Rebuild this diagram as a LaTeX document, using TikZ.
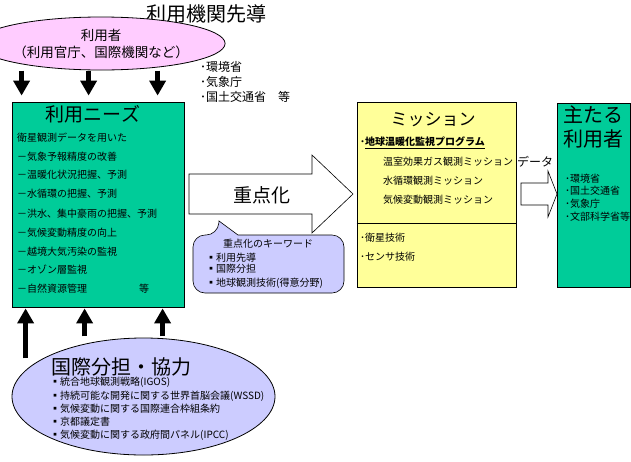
\documentclass[tikz,border=0pt]{standalone}
\usepackage{fontspec}
\setmainfont{Noto Sans CJK JP}
\usetikzlibrary{shapes.geometric,arrows.meta}
\definecolor{needsgreen}{HTML}{00CC99}
\definecolor{userpink}{HTML}{FFCCFF}
\definecolor{coopblue}{HTML}{CCCCFF}
\definecolor{missionyellow}{HTML}{FFFF99}
\tikzset{
	item/.style={anchor=west, inner sep=0pt, font=\fontsize{#1}{#1}\selectfont},
	item/.default=10,
	heading/.style={inner sep=0pt, font=\fontsize{#1}{#1}\selectfont},
	panel/.style={draw, line width=0.8pt, inner sep=0pt},
	fatarrow/.style={line width=5pt, -{Triangle[width=16pt,length=15pt]}},
	blockarrow/.style={draw, fill=white, line width=0.6pt},
}
\begin{document}
\begin{tikzpicture}[x=1pt, y=-1pt]
	\useasboundingbox (0,0) rectangle (631,461);
	% top: users
	\node[heading=20] (lead) at (206,13.5) {利用機関先導};
	\node[panel, ellipse, fill=userpink, minimum width=198pt, minimum height=53pt,
		align=center, font=\fontsize{13.5}{17}\selectfont] (users) at (101,43.5)
		{利用者\\（利用官庁、国際機関など）};
	\node[item=12] (env) at (200,67) {･環境省};
	\node[item=12] (jma) at (200,82) {･気象庁};
	\node[item=12] (mlit) at (200,97) {･国土交通省　等};

	% user needs
	\node[panel, fill=needsgreen, minimum width=172pt, minimum height=205pt] (needs) at (98,204.5) {};
	\node[heading=19] (needstitle) at (93,114) {利用ニーズ};
	\foreach \y/\txt [count=\i] in {138/衛星観測データを用いた, 157/－気象予報精度の改善,
		175/－温暖化状況把握、予測, 194/－水循環の把握、予測, 214/－洪水、集中豪雨の把握、予測,
		233/－気候変動精度の向上, 252/－越境大気汚染の監視, 270/－オゾン層監視,
		289/－自然資源管理\hspace{52pt}等}
		\node[item] (need\i) at (17,\y) {\txt};

	\foreach \dx in {10,77,146}
		\draw[fatarrow] ([xshift=\dx pt, yshift=31pt]needs.north west) -- ([xshift=\dx pt, yshift=6pt]needs.north west);

	% focus arrow and keywords
	\draw[blockarrow] (189,174) -- (312,174) -- (312,155) -- (353,194) -- (312,233) -- (312,214) -- (189,214) -- cycle;
	\node[heading=19] (focus) at (262,195) {重点化};
	\draw[fill=coopblue, line width=0.6pt, rounded corners=12pt] (193,264) -- (193,235) -- (218,235)
		[sharp corners] -- (219,221) -- (238,235) [rounded corners=12pt] -- (344,235) -- (344,293) -- (193,293) -- cycle;
	\node[heading=10] (keytitle) at (268,244) {重点化のキーワード};
	\node[item] (key1) at (206,258) {▪利用先導};
	\node[item] (key2) at (206,269) {▪国際分担};
	\node[item] (key3) at (206,283) {▪地球観測技術(得意分野)};

	% mission
	\node[panel, fill=missionyellow, minimum width=159pt, minimum height=185pt] (mission) at (436.5,194.5) {};
	\draw[line width=0.8pt] ([yshift=64pt]mission.south west) -- ([yshift=64pt]mission.south east);
	\node[heading=17] (missiontitle) at (433,120) {ミッション};
	\node[item] (gw) at (360,143) {\bfseries ･\underline{地球温暖化監視プログラム}};
	\node[item] (ghg) at (383,162) {温室効果ガス観測ミッション};
	\node[item] (water) at (383,181) {水循環観測ミッション};
	\node[item] (climate) at (383,200) {気候変動観測ミッション};
	\node[item] (sat) at (360,238) {･衛星技術};
	\node[item] (sensor) at (360,257) {･センサ技術};

	% data arrow and main users
	\node[heading=12] (data) at (535,162) {データ};
	\draw[blockarrow] (521,183) -- (548,183) -- (548,171) -- (557,194) -- (548,217) -- (548,205) -- (521,205) -- cycle;
	\node[panel, fill=needsgreen, minimum width=73pt, minimum height=184pt] (main) at (593.5,195) {};
	\node[item=20] (maintitle1) at (563,115) {主たる};
	\node[item=20] (maintitle2) at (563,139) {利用者};
	\node[item] (main1) at (565,179) {･環境省};
	\node[item] (main2) at (565,191) {･国土交通省};
	\node[item] (main3) at (565,204) {･気象庁};
	\node[item] (main4) at (565,217) {･文部科学省等};

	% international cooperation
	\node[panel, ellipse, fill=coopblue, minimum width=263pt, minimum height=117pt] (coop) at (143.5,396.5) {};
	\node[heading=20] (cooptitle) at (121.5,367) {国際分担・協力};
	\node[item] (coop1) at (50,382) {▪統合地球観測戦略(IGOS)};
	\node[item] (coop2) at (50,396) {▪持続可能な開発に関する世界首脳会議(WSSD)};
	\node[item] (coop3) at (50,409) {▪気候変動に関する国際連合枠組条約};
	\node[item] (coop4) at (50,422) {▪京都議定書};
	\node[item] (coop5) at (50,435) {▪気候変動に関する政府間パネル(IPCC)};

	\draw[fatarrow] ([xshift=14pt, yshift=-51pt]needs.south west) -- ([xshift=14pt, yshift=-1pt]needs.south west);
	\foreach \dx in {73,151}
		\draw[fatarrow] ([xshift=\dx pt, yshift=-29pt]needs.south west) -- ([xshift=\dx pt, yshift=-1pt]needs.south west);
\end{tikzpicture}
\end{document}
